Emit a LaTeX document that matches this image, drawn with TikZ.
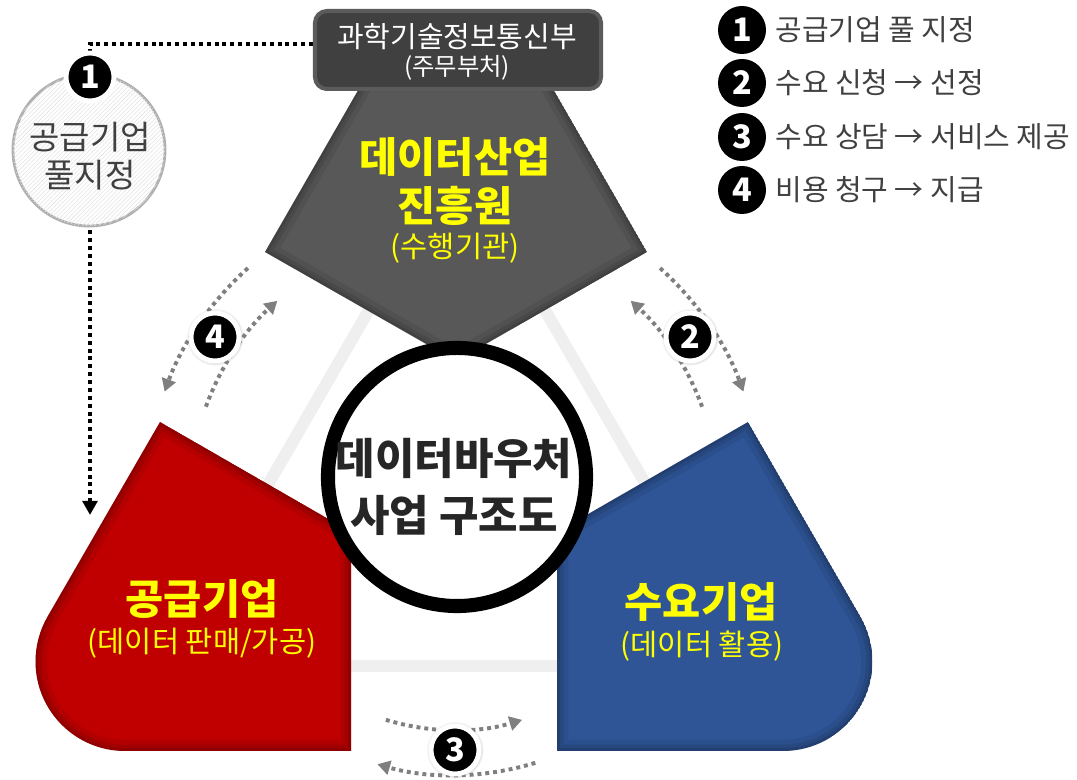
\documentclass[tikz,border=0pt]{standalone}
\usepackage{fontspec}
\setmainfont{Noto Sans CJK KR}
\usepackage{tikz}
\usetikzlibrary{calc,positioning,arrows.meta,patterns,shadows,shapes}

\definecolor{govgray}{HTML}{404040}
\definecolor{govline}{HTML}{5B5B5B}
\definecolor{topgray}{HTML}{585858}
\definecolor{supred}{HTML}{C00000}
\definecolor{demblue}{HTML}{2F5597}
\definecolor{hubtxt}{HTML}{262626}
\definecolor{legtxt}{HTML}{404040}
\definecolor{trigray}{HTML}{EFEFEF}
\definecolor{arcgray}{HTML}{7F7F7F}
\definecolor{poolline}{HTML}{B0B0B0}
\definecolor{yel}{HTML}{FFFF00}

\def\toppath{(364,700) -- (548,700) -- (647,528) -- (456,419) -- (265,528) -- cycle}
\def\redpath{(160,358) -- (351,248) -- (351,29) -- (125,29) arc[start angle=-90, end angle=-210, radius=89.5] -- cycle}
\def\bluepath{(748,358) -- (557,248) -- (557,29) -- (783,29) arc[start angle=-90, end angle=30, radius=89.5] -- cycle}

\begin{document}
\begin{tikzpicture}[x=0.025cm, y=0.025cm,
    badge/.style={circle, fill=black, draw=white, line width=3.5pt, minimum size=1.2cm, inner sep=0pt,
      text=white, font=\bfseries\fontsize{23}{23}\selectfont},
    legbadge/.style={circle, fill=black, minimum size=1.2cm, inner sep=0pt,
      text=white, font=\bfseries\fontsize{23}{23}\selectfont},
    legtext/.style={inner sep=0pt, anchor=west, text=legtxt, font=\fontsize{20.6}{20.6}\selectfont},
    bigtext/.style={text=yel, font=\bfseries\fontsize{29.5}{29.5}\selectfont},
    smalltext/.style={text=yel, font=\fontsize{21}{21}\selectfont},
    dotarc/.style={arcgray, line width=2.8pt, dash pattern=on 2.8pt off 2.8pt, -{Triangle[width=10pt,length=9pt]}}]

    \useasboundingbox (0,0) rectangle (1077,780);

    % background triangle
    \draw[trigray, line width=8.5pt] (457,622) -- (163,114) -- (751,114) -- cycle;

    % dotted line from the ministry to the suppliers
    \coordinate (dotstart) at (313,736);
    \coordinate (dotturn) at (90,736);
    \coordinate (dotend) at (90,265);
    \draw[black, line width=2.8pt, dash pattern=on 2.8pt off 2.8pt,
      -{Triangle[width=10.5pt,length=10pt]}] (dotstart) -- (dotturn) -- (dotend);

    % three blocks
    \begin{scope}
        \clip \toppath;
        \fill[topgray] \toppath;
        \draw[black, opacity=0.07, line width=16pt] \toppath;
        \draw[black, opacity=0.09, line width=9pt] \toppath;
        \draw[black, opacity=0.1, line width=4pt] \toppath;
    \end{scope}
    \begin{scope}
        \clip \redpath;
        \fill[supred] \redpath;
        \draw[black, opacity=0.07, line width=16pt] \redpath;
        \draw[black, opacity=0.09, line width=9pt] \redpath;
        \draw[black, opacity=0.1, line width=4pt] \redpath;
    \end{scope}
    \begin{scope}
        \clip \bluepath;
        \fill[demblue] \bluepath;
        \draw[black, opacity=0.07, line width=16pt] \bluepath;
        \draw[black, opacity=0.09, line width=9pt] \bluepath;
        \draw[black, opacity=0.1, line width=4pt] \bluepath;
    \end{scope}

    % centre circle
    \node[circle, draw=black, fill=white, line width=10pt, minimum size=6.45cm] (hub) at (457,303) {};
    \node[text=hubtxt, font=\bfseries\fontsize{30.5}{30.5}\selectfont] (hubA) at (454,322) {데이터바우처};
    \node[text=hubtxt, font=\bfseries\fontsize{30.5}{30.5}\selectfont] (hubB) at (454,265) {사업 구조도};

    % ministry box
    \node[rectangle, rounded corners=8.5pt, fill=govgray, draw=govline, line width=2.85pt,
      minimum width=7.15cm, minimum height=1.95cm] (gov) at (458,730) {};
    \node[text=white, font=\fontsize{20.6}{20.6}\selectfont] (govA) at (457,743) {과학기술정보통신부};
    \node[text=white, font=\fontsize{17.3}{17.3}\selectfont] (govB) at (457,712) {(주무부처)};

    % block labels
    \node[bigtext] (topA) at (455,623) {데이터산업};
    \node[bigtext] (topB) at (455,574) {진흥원};
    \node[smalltext] (topC) at (455,532) {(수행기관)};
    \node[bigtext] (redA) at (202,181) {공급기업};
    \node[smalltext] (redB) at (202,137) {(데이터 판매/가공)};
    \node[bigtext] (blueA) at (701,178) {수요기업};
    \node[smalltext] (blueB) at (702,134) {(데이터 활용)};

    % supplier pool
    \node[circle, draw=poolline, line width=2pt, fill=white, minimum size=3.8cm,
      postaction={pattern=north east lines, pattern color=black!10}] (pool) at (89,630) {};
    \node[text=legtxt, font=\fontsize{23.5}{23.5}\selectfont] (poolA) at (90,643) {공급기업};
    \node[text=legtxt, font=\fontsize{23.5}{23.5}\selectfont] (poolB) at (90,605) {풀지정};
    \node[badge] (bOne) at (90,703) {1};

    % flow arcs
    \coordinate (ctr) at (454,283);
    \draw[dotarc] ($(ctr)+(132:308)$) arc[start angle=132, end angle=160, radius=308];
    \draw[dotarc] ($(ctr)+(160:264)$) arc[start angle=160, end angle=132, radius=264];
    \draw[dotarc] ($(ctr)+(48:308)$) arc[start angle=48, end angle=20, radius=308];
    \draw[dotarc] ($(ctr)+(20:264)$) arc[start angle=20, end angle=48, radius=264];
    \draw[dotarc] ($(ctr)+(253:233)$) arc[start angle=253, end angle=287, radius=233];
    \draw[dotarc] ($(ctr)+(287:278)$) arc[start angle=287, end angle=254, radius=278];

    \node[badge, circular drop shadow={shadow xshift=0pt, shadow yshift=0pt, shadow scale=1.2, opacity=0.35}] (bFour) at (215,443) {4};
    \node[badge, circular drop shadow={shadow xshift=0pt, shadow yshift=0pt, shadow scale=1.2, opacity=0.35}] (bTwo) at (690,443) {2};
    \node[badge, circular drop shadow={shadow xshift=0pt, shadow yshift=0pt, shadow scale=1.2, opacity=0.35}] (bThree) at (455,30) {3};

    % legend
    \node[legbadge] (lgOne) at (742,750) {1};
    \node[legbadge] (lgTwo) at (742,697) {2};
    \node[legbadge] (lgThree) at (742,643) {3};
    \node[legbadge] (lgFour) at (742,590) {4};
    \node[legtext, right=0.22cm of lgOne] (lgOneT) {공급기업 풀 지정};
    \node[legtext, right=0.22cm of lgTwo] (lgTwoT) {수요 신청 → 선정};
    \node[legtext, right=0.22cm of lgThree] (lgThreeT) {수요 상담 → 서비스 제공};
    \node[legtext, right=0.22cm of lgFour] (lgFourT) {비용 청구 → 지급};
\end{tikzpicture}
\end{document}
